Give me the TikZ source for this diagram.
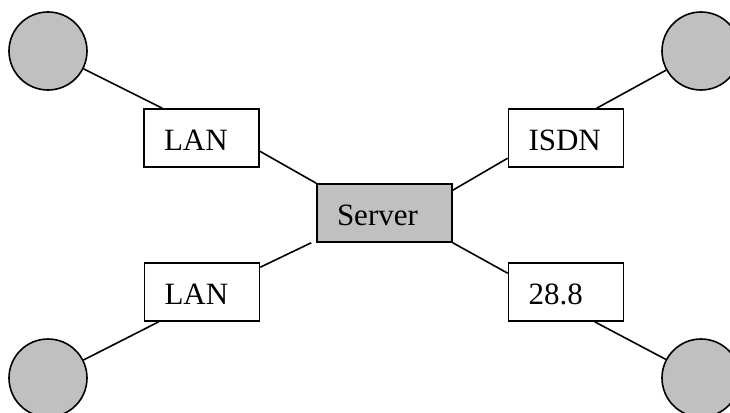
\documentclass[tikz,border=0pt]{standalone}
\usepackage{fontspec}
\setmainfont{Liberation Serif}
\definecolor{nodegray}{RGB}{192,192,192}
\begin{document}
\begin{tikzpicture}[x=1pt,y=-1pt,
  link/.style={line width=1.6pt},
  host/.style={circle,draw,line width=1.6pt,fill=nodegray,minimum size=78pt,inner sep=0pt},
  netbox/.style={rectangle,draw,line width=1.6pt,fill=white,minimum height=58pt,
    text width=75pt,align=left,inner xsep=20pt,inner ysep=0pt,text height=25pt,text depth=0pt,
    font=\fontsize{31}{35}\selectfont},
  srvbox/.style={netbox,fill=nodegray,text width=95pt}]
\useasboundingbox (0,0) rectangle (730,412);
\clip (0,0) rectangle (730,412);
\node[host] (tl) at (48,51) {};
\node[host] (tr) at (701,51) {};
\node[host] (bl) at (48,378) {};
\node[host] (br) at (701,378) {};
\node[netbox] (lan1) at (201.5,138) {LAN};
\node[netbox] (isdn) at (566,138) {ISDN};
\node[netbox] (lan2) at (202,292) {LAN};
\node[netbox] (rate) at (566,292) {28.8};
\node[srvbox] (server) at (384.5,213) {Server};
\draw[link] (tl) -- ([xshift=19pt]lan1.north west);
\draw[link] ([yshift=-43pt]lan1.north east) -- (server.north west);
\draw[link] ([yshift=-50pt]isdn.north west) -- ([yshift=-7pt]server.north east);
\draw[link] ([xshift=89pt]isdn.north west) -- (tr);
\draw[link] ([yshift=-5pt]lan2.north east) -- ([xshift=-5pt]server.south west);
\draw[link] ([xshift=15pt]lan2.south west) -- (bl);
\draw[link] (server.south east) -- ([yshift=-11pt]rate.north west);
\draw[link] ([xshift=87pt]rate.south west) -- (br);
\end{tikzpicture}
\end{document}
